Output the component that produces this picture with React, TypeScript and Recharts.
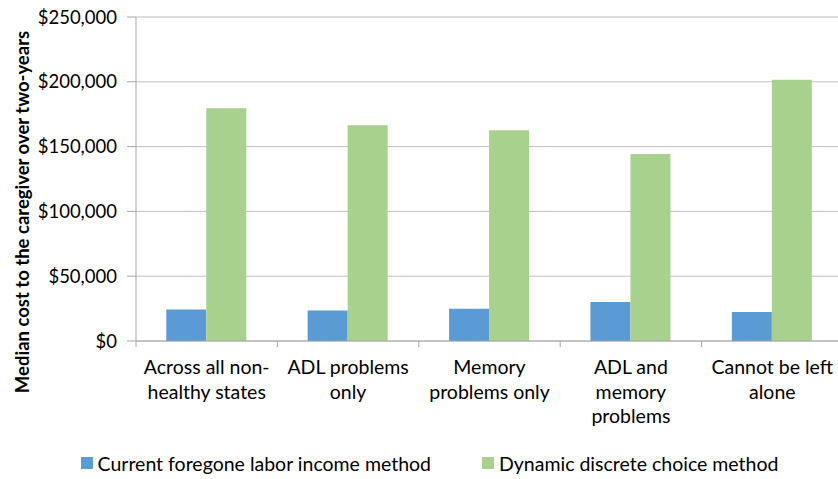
import {
  BarChart,
  Bar,
  XAxis,
  YAxis,
  CartesianGrid,
  Legend,
  Label,
} from "recharts";

const categories = [
  "Across all non-\nhealthy states",
  "ADL problems\nonly",
  "Memory\nproblems only",
  "ADL and\nmemory\nproblems",
  "Cannot be left\nalone",
];
const foregoneIncome = [24400, 23600, 24900, 30100, 22400];
const discreteChoice = [179500, 166400, 162700, 144200, 201500];
const yTicks = [0, 50000, 100000, 150000, 200000, 250000];

const data = categories.map((name, i) => ({
  name,
  foregone: foregoneIncome[i],
  dynamic: discreteChoice[i],
}));

const FONT = "Lato, 'Open Sans', sans-serif";
const AXIS = "#a6a6a6";

const money = (v: number) => "$" + v.toLocaleString("en-US");

function CategoryTick(props: any) {
  const { x, y, payload } = props;
  const lines = String(payload.value).split("\n");
  const left = payload.coordinate - (payload.offset || 0);
  return (
    <g>
      <line x1={left} x2={left} y1={y} y2={y + 6} stroke={AXIS} />
      <text x={x} y={y + 33} textAnchor="middle" fontSize={19.5} fill="#000" fontFamily={FONT}>
        {lines.map((l, i) => (
          <tspan key={i} x={x} dy={i === 0 ? 0 : 24.5}>
            {l}
          </tspan>
        ))}
      </text>
    </g>
  );
}

function LegendBox({ payload }: any) {
  return (
    <div
      style={{
        display: "flex",
        justifyContent: "center",
        alignItems: "center",
        height: 32,
        paddingLeft: 16,
        fontFamily: FONT,
        fontSize: 19.5,
        color: "#000",
      }}
    >
      {(payload || []).map((p: any, i: number) => (
        <div key={i} style={{ display: "flex", alignItems: "center", marginRight: i === 0 ? 51 : 0 }}>
          <span style={{ width: 12, height: 12, background: p.color, marginRight: 5 }} />
          <span>{p.value}</span>
        </div>
      ))}
    </div>
  );
}

export default function App() {
  return (
    <div style={{ position: "absolute", left: 0, top: 0, width: 838, height: 479, overflow: "hidden", background: "#fff" }}>
      <BarChart
        width={846}
        height={479}
        data={data}
        margin={{ top: 17, right: 3, left: 0, bottom: 0 }}
        barCategoryGap="21.4%"
        barGap={0}
      >
        <CartesianGrid vertical={false} stroke="#bfbfbf" />
        <XAxis
          dataKey="name"
          height={106}
          interval={0}
          tickSize={0}
          tickMargin={0}
          axisLine={{ stroke: AXIS }}
          tickLine={false}
          tick={<CategoryTick />}
        />
        <YAxis
          width={136}
          domain={[0, 250000]}
          ticks={yTicks}
          tickFormatter={money}
          tickSize={9}
          tickMargin={10}
          axisLine={{ stroke: AXIS }}
          tickLine={{ stroke: AXIS }}
          tick={{ fontSize: 18.5, fill: "#000", fontFamily: FONT }}
        >
          <Label
            content={() => (
              <text
                transform="translate(23,212) rotate(-90)"
                textAnchor="middle"
                dy="0.35em"
                fontSize={18.5}
                fontWeight="bold"
                fontFamily={FONT}
                fill="#000"
              >
                Median cost to the caregiver over two-years
              </text>
            )}
          />
        </YAxis>
        <Legend verticalAlign="bottom" content={<LegendBox />} />
        <Bar dataKey="foregone" name="Current foregone labor income method" fill="#5b9bd5" isAnimationActive={false} />
        <Bar dataKey="dynamic" name="Dynamic discrete choice method" fill="#a9d18e" isAnimationActive={false} />
      </BarChart>
    </div>
  );
}
